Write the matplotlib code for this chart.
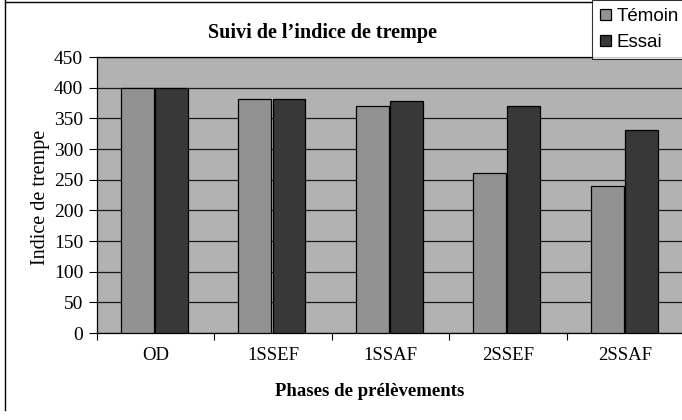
import numpy as np
import matplotlib.pyplot as plt
from matplotlib.lines import Line2D

phases = ["OD", "1SSEF", "1SSAF", "2SSEF", "2SSAF"]
temoin = [400, 381, 370, 261, 240]
essai = [399, 381, 378, 370, 331]
yticks = [0, 50, 100, 150, 200, 250, 300, 350, 400, 450]

serif = "Liberation Serif"
sans = "Liberation Sans"

W, H = 682, 420
fig = plt.figure(figsize=(W / 100, H / 100), dpi=100)
fig.patch.set_facecolor("white")

ax = fig.add_axes([97 / W, 87 / H, 587 / W, 276 / H])
ax.set_facecolor("#b2b2b2")

x = np.arange(len(phases)) + 0.5
w = 0.28
ax.bar(x - w / 2 - 0.015, temoin, w, color="#929292", edgecolor="black",
       linewidth=0.9, label="Témoin", zorder=3)
ax.bar(x + w / 2 - 0.005, essai, w, color="#383838", edgecolor="black",
       linewidth=0.9, label="Essai", zorder=3)

ax.set_xlim(0, len(phases))
ax.set_ylim(0, 450)
ax.set_yticks(yticks)
ax.yaxis.grid(True, color="#1a1a1a", linewidth=0.9, zorder=1)
ax.set_axisbelow(True)

ax.set_xticks(x)
ax.set_xticklabels(phases, fontfamily=serif, fontsize=13.5)
ax.set_xticks(np.arange(len(phases) + 1), minor=True)
ax.tick_params(axis="x", which="major", length=0, pad=10)
ax.tick_params(axis="x", which="minor", length=5, width=0.8, direction="out")
ax.tick_params(axis="y", length=6, width=0.8, direction="out", pad=4)
for lab in ax.get_yticklabels():
    lab.set_fontfamily(serif)
    lab.set_fontsize(14)

for side in ["left", "bottom", "top"]:
    ax.spines[side].set_color("black")
    ax.spines[side].set_linewidth(0.9)
ax.spines["right"].set_visible(False)

fig.text(323 / W, 1 - 33 / H, "Suivi de l\u2019indice de trempe", ha="center",
         va="center", fontfamily=serif, fontweight="bold", fontsize=14.5)
fig.text(40 / W, 1 - 197 / H, "Indice de trempe", ha="center", va="center",
         rotation=90, fontfamily=serif, fontsize=14.5)
fig.text(370 / W, 1 - 392 / H, "Phases de prélèvements", ha="center",
         va="center", fontfamily=serif, fontweight="bold", fontsize=13.5)

leg = fig.legend(loc="upper left", bbox_to_anchor=(592 / W, 1.0),
                 prop={"family": sans, "size": 13.5}, frameon=True,
                 fancybox=False, handlelength=0.55, handleheight=0.55,
                 handletextpad=0.3, borderpad=0.45, labelspacing=0.45,
                 borderaxespad=0)
leg.get_frame().set_edgecolor("black")
leg.get_frame().set_linewidth(0.8)

# chart area border
fig.add_artist(Line2D([5 / W, 5 / W], [10 / H, 1.0], color="black", lw=1.0))
fig.add_artist(Line2D([5 / W, 592 / W], [1 - 2 / H, 1 - 2 / H],
                      color="black", lw=1.0))

fig.savefig("out.png", dpi=100)
